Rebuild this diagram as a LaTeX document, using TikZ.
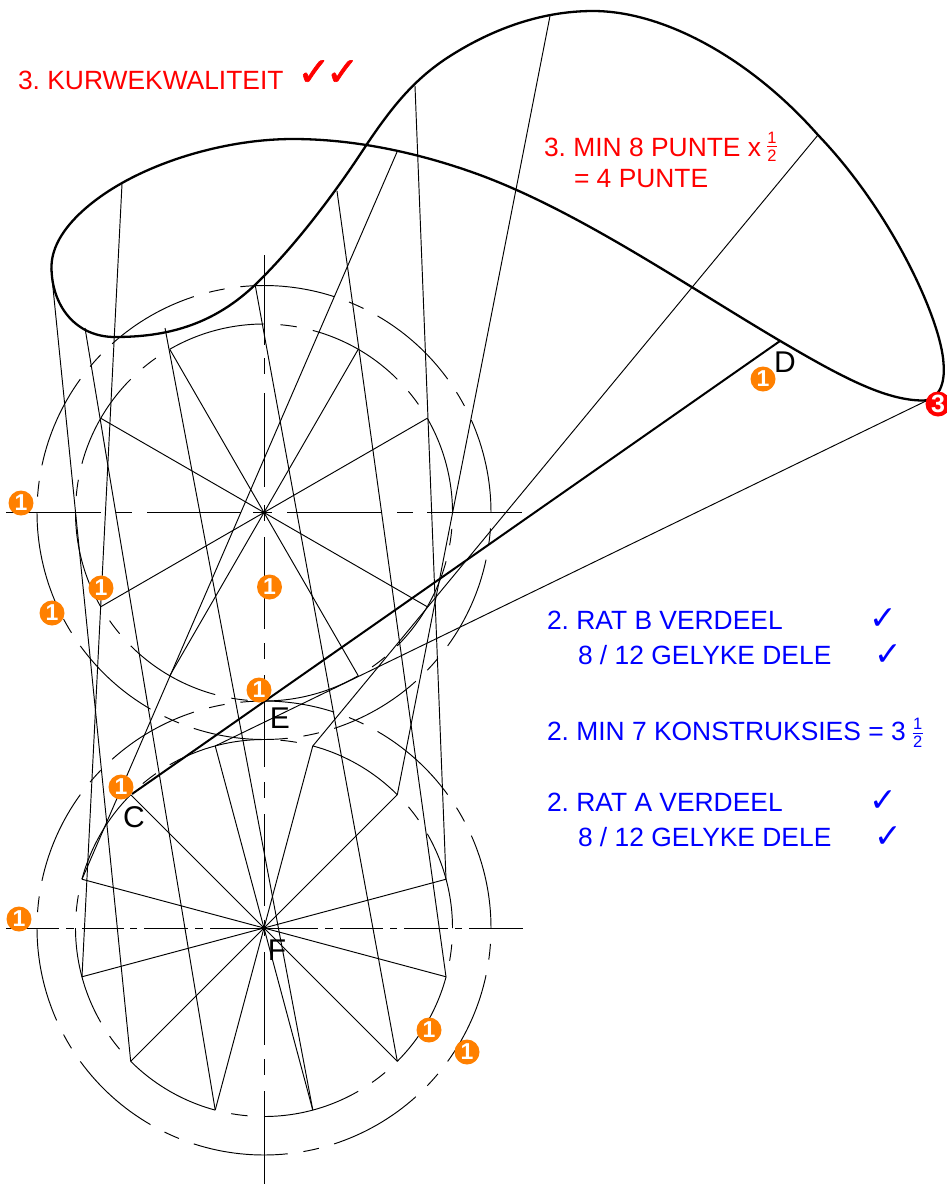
\documentclass[tikz,border=0pt]{standalone}
\usepackage{fontspec}
\usetikzlibrary{calc}
\setmainfont{Liberation Sans}
\newfontfamily\dejavu{DejaVu Sans}
\newfontfamily\dejabold[FakeBold=1.5]{DejaVu Sans}
\definecolor{orange1}{RGB}{255,128,0}
\definecolor{blue1}{RGB}{0,0,255}
\definecolor{red1}{RGB}{255,0,0}
\frenchspacing
\tikzset{
  thin line/.style={line width=0.95pt,black,line cap=butt},
  thick line/.style={line width=2.3pt,black,line join=round},
  lbl/.style={inner sep=0pt,outer sep=0pt,anchor=base west,font=\fontsize{26.4}{26.4}\selectfont},
  ptlbl/.style={inner sep=0pt,outer sep=0pt,anchor=center,font=\fontsize{30}{30}\selectfont,text=black},
  badge/.style={circle,inner sep=0pt,minimum size=25pt,fill=orange1,text=white,font=\fontsize{23}{23}\bfseries\selectfont},
  redbadge/.style={circle,inner sep=0pt,minimum size=25pt,fill=red1,text=white,font=\fontsize{25}{25}\bfseries\selectfont},
  tick/.style={inner sep=0pt,outer sep=0pt,anchor=center,font=\dejavu\fontsize{33}{33}\selectfont},
  bigtick/.style={inner sep=0pt,outer sep=0pt,anchor=center,font=\dejabold\fontsize{40}{40}\selectfont},
  frac/.style={inner sep=0pt,outer sep=0pt,anchor=center,font=\fontsize{16.5}{16.5}\selectfont},
}
\begin{document}
\begin{tikzpicture}[x=1pt,y=-1pt]
\useasboundingbox (0,0) rectangle (947,1184);
% Circle centres
\coordinate (B) at (264,512.5);
\coordinate (A) at (264,928);
% Dashed circles: ten-part pattern (outer) and eight-part pattern (inner)
\foreach \c in {B,A}{
  \foreach \t in {0,36,...,324}{
    \draw[thin line] ($(\c)+(\t:227 and -227)$) arc[start angle=-\t,delta angle=-24,radius=227];
    \draw[thin line] ($(\c)+(\t+28:227 and -227)$) arc[start angle=-\t-28,delta angle=-4,radius=227];
  }
  \foreach \t in {0,45,...,315}{
    \draw[thin line] ($(\c)+(\t:188.5 and -188.5)$) arc[start angle=-\t,delta angle=-30,radius=188.5];
    \draw[thin line] ($(\c)+(\t+35:188.5 and -188.5)$) arc[start angle=-\t-35,delta angle=-5,radius=188.5];
  }
}
% Centre lines
\foreach \a/\b in {255/345,358/374,393/487,504.5/520.5,537/629,643/659,675/767,782/798,814/906,920/936,952/1045,1059/1075,1091/1184}{
  \draw[thin line] (264,\a) -- (264,\b);
}
\foreach \a/\b in {6/100.6,115.5/131.7,147/241,253/272,287/381,397/412.5,427/522}{
  \draw[thin line] (\a,512.5) -- (\b,512.5);
}
\foreach \a/\b in {6/59,66/74,82/124,130/137,144/188,195/203,210/318,325/333,340/383,390/397,404/448,455/462,469/523}{
  \draw[thin line] (\a,928) -- (\b,928);
}
% Spokes of rat B
\foreach \t in {30,60,120,150}{
  \draw[thin line] ($(B)+(\t:188.5 and -188.5)$) -- ($(B)+(\t+180:188.5 and -188.5)$);
}
% Spokes of rat A
\foreach \t in {15,45,75,105,135,165}{
  \draw[thin line] ($(A)+(\t:188.5 and -188.5)$) -- ($(A)+(\t+180:188.5 and -188.5)$);
}
% Generators
\draw[thin line] (82,976.8) -- (122,184);
\draw[thin line] (130.7,1061.3) -- (51,268);
\draw[thin line] (215.2,1110) -- (85,328);
\draw[thin line] (312.8,1110) -- (165,328);
\draw[thin line] (397.3,1061.3) -- (255,284);
\draw[thin line] (446,976.8) -- (337,191);
\draw[thin line] (446,879.2) -- (415,86);
\draw[thin line] (397.3,794.7) -- (550,16);
\draw[thin line] (312.8,746) -- (818,135);
\draw[thin line] (215.2,746) -- (928,400);
\draw[thin line] (82,879.2) -- (397,152);
\draw[thick line,line width=2pt] (132,794) -- (780,341);
% The curve
\draw[thick line] (51.5,267)
  .. controls (51.5,232) and (90,201) .. (122,183)
  .. controls (170,156) and (235,139) .. (293,139)
  .. controls (355,139) and (420,153) .. (480,175)
  .. controls (580,212) and (690,288) .. (782,342)
  .. controls (840,376) and (885,400.5) .. (923,400.5)
  .. controls (938,400.5) and (945.5,385) .. (943.5,363)
  .. controls (941,320) and (892,212) .. (818,135)
  .. controls (752,60) and (665,11) .. (593,11)
  .. controls (540,11) and (490,30) .. (447,58)
  .. controls (412,81) and (390,110) .. (367,144)
  .. controls (345,178) and (303,238) .. (257,283)
  .. controls (213,326) and (165,337) .. (115,337)
  .. controls (75,337) and (51.5,305) .. (51.5,267) -- cycle;
% Point labels
\node[ptlbl] (C) at (134,817) {C};
\node[ptlbl] (D) at (785,362) {D};
\node[ptlbl] (E) at (280,718) {E};
\node[ptlbl] (F) at (277,950) {F};
% Badges
\node[badge] (b1) at (21,503) {1};
\node[badge] (b2) at (101,588) {1};
\node[badge] (b3) at (52,613) {1};
\node[badge] (b4) at (269.5,587) {1};
\node[badge] (b5) at (259,690) {1};
\node[badge] (b6) at (121,787) {1};
\node[badge] (b7) at (19,919) {1};
\node[badge] (b8) at (429,1030) {1};
\node[badge] (b9) at (467,1052) {1};
\node[badge] (b10) at (763,379) {1};
\node[redbadge] (b11) at (938,404) {3};
% Red text
\node[lbl,text=red1] (t1) at (18,89) {3. KURWEKWALITEIT};
\node[bigtick,text=red1] (k1) at (314,73) {✓};
\node[bigtick,text=red1] (k2) at (342.6,73) {✓};
\node[lbl,text=red1] (t2) at (544,156) {3. MIN 8 PUNTE x};
\node[lbl,text=red1] (t3) at (574,187) {= 4 PUNTE};
\node[frac,text=red1] (f1) at (772,138) {1};
\node[frac,text=red1] (f2) at (772,156) {2};
\draw[red1,line width=0.8pt] (767,146.5) -- (777,146.5);
% Blue text
\node[lbl,text=blue1] (u1) at (547,629.5) {2. RAT B VERDEEL};
\node[lbl,text=blue1] (u2) at (578,664) {8 / 12 GELYKE DELE};
\node[lbl,text=blue1] (u3) at (547,740) {2. MIN 7 KONSTRUKSIES = 3};
\node[lbl,text=blue1] (u4) at (547,811) {2. RAT A VERDEEL};
\node[lbl,text=blue1] (u5) at (578,846) {8 / 12 GELYKE DELE};
\node[frac,text=blue1] (g1) at (917.7,724) {1};
\node[frac,text=blue1] (g2) at (917.7,742) {2};
\draw[blue1,line width=0.8pt] (912.7,733) -- (922.7,733);
\node[tick,text=blue1] (m1) at (883,619) {✓};
\node[tick,text=blue1] (m2) at (888,655) {✓};
\node[tick,text=blue1] (m3) at (883,801) {✓};
\node[tick,text=blue1] (m4) at (888,837) {✓};
\end{tikzpicture}
\end{document}
